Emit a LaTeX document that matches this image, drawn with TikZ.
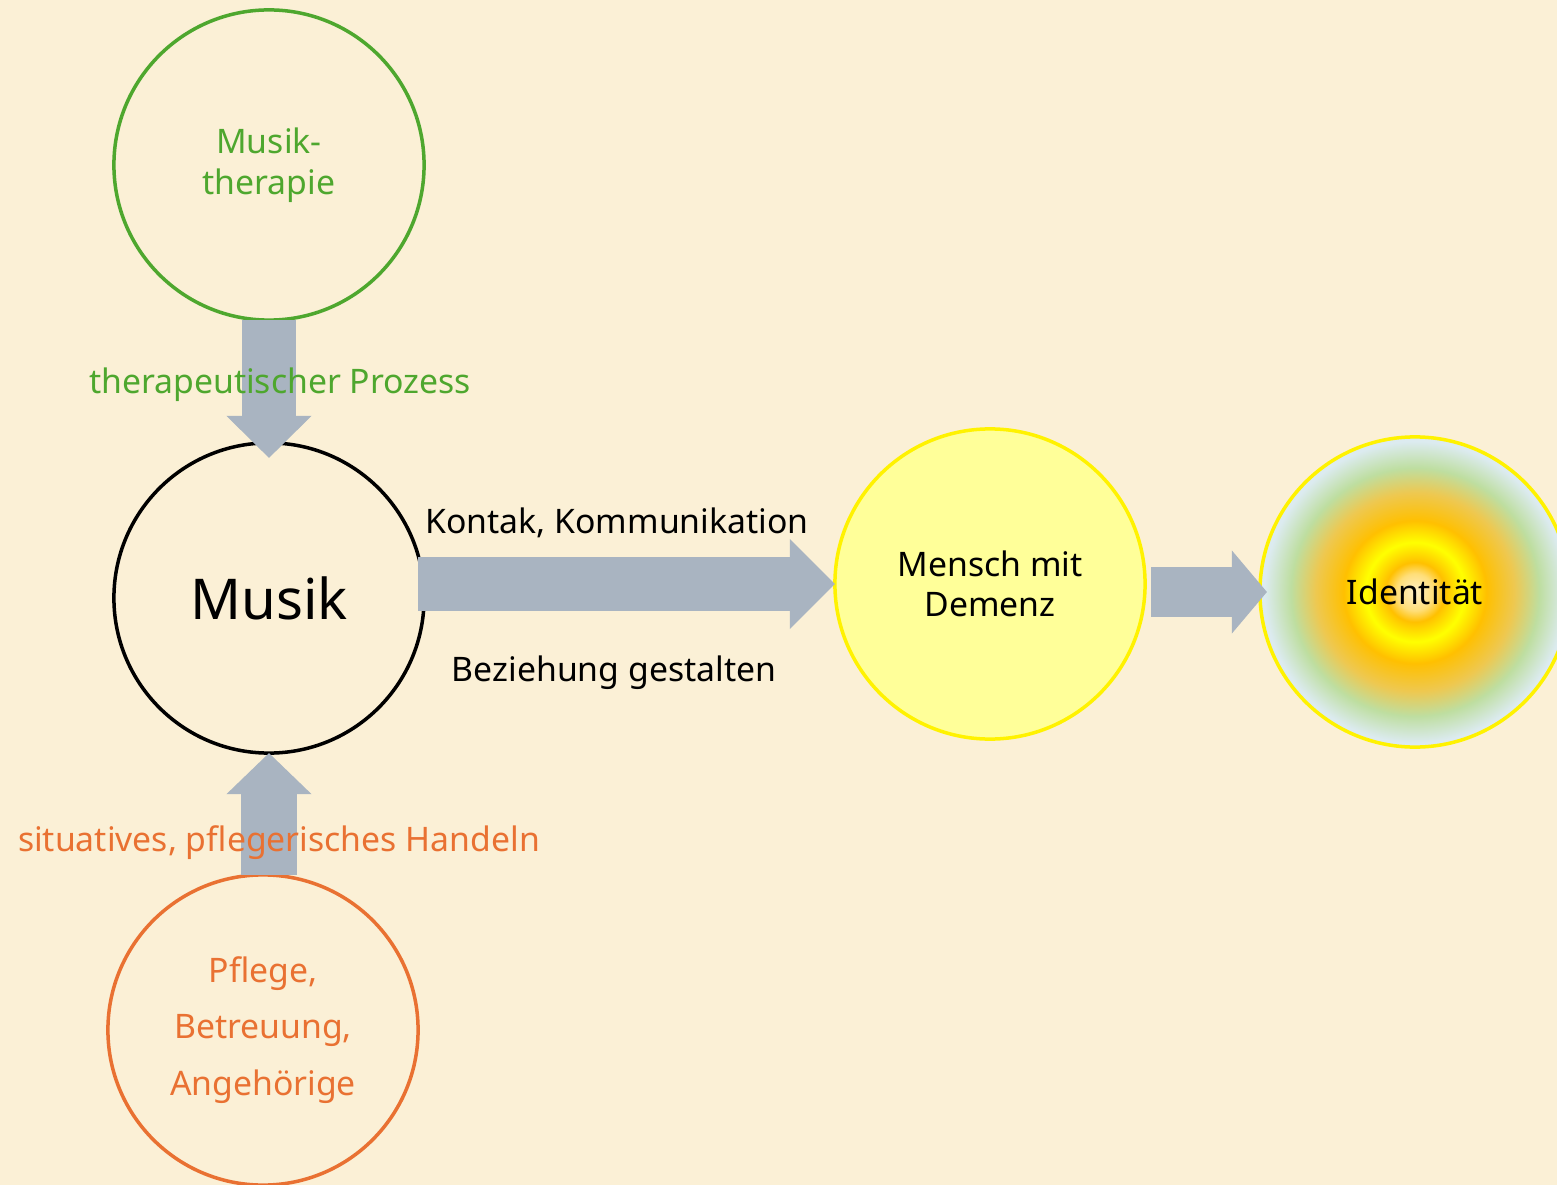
\documentclass[tikz,border=0pt]{standalone}
\usepackage{fontspec}
\setmainfont{Noto Sans}
\usetikzlibrary{arrows.meta}
\usepackage{xcolor}

\definecolor{paper}{RGB}{251,240,214}
\definecolor{arrowgray}{RGB}{169,180,193}
\definecolor{mtgreen}{RGB}{78,167,46}
\definecolor{careorange}{RGB}{233,113,50}
\definecolor{lemon}{RGB}{255,255,153}
\definecolor{ringlight}{RGB}{255,240,200}
\definecolor{ringpale}{RGB}{255,222,120}
\definecolor{ringorange}{RGB}{255,192,0}
\definecolor{ringyellow}{RGB}{255,255,0}
\definecolor{ringtan}{RGB}{238,200,80}
\definecolor{ringgreen}{RGB}{190,222,160}
\definecolor{ringblue}{RGB}{220,235,240}
\pgfdeclareradialshading{identshade}{\pgfpoint{0cm}{0cm}}{%
  color(0bp)=(ringlight); color(3bp)=(ringpale); color(4.8bp)=(ringorange);
  color(8bp)=(ringyellow); color(11.5bp)=(ringorange); color(16bp)=(ringtan);
  color(20bp)=(ringgreen); color(24.3bp)=(ringblue); color(50bp)=(ringblue)}

\begin{document}
\begin{tikzpicture}[x=0.01cm, y=-0.01cm,
  ring/.style={circle, minimum size=3.1cm, inner sep=0pt, outer sep=0pt, line width=0.035cm, align=center},
  txt/.style={font=\fontsize{9.6pt}{11.7pt}\selectfont, align=center},
  blockarrow/.style={arrowgray, line width=#1}]
\fill[paper] (0,0) rectangle (1557,1185);
\useasboundingbox (0,0) rectangle (1557,1185);

\node[ring, draw=mtgreen, text=mtgreen, txt] (therapie) at (269,165) {Musik-\\therapie};
\node[ring, draw=black, font=\fontsize{16pt}{19pt}\selectfont] (musik) at (269,598) {Musik};
\node[ring, draw=careorange, text=careorange, font=\fontsize{9.6pt}{16pt}\selectfont] (pflege) at (263,1030) {Pflege,\\Betreuung,\\Angehörige};
\node[ring, draw=yellow, fill=lemon, txt, font=\fontsize{9.6pt}{11.4pt}\selectfont] (mensch) at (990,584) {Mensch mit\\Demenz};
\node[ring, draw=yellow, shading=identshade, txt] (ident) at (1415,592) {Identität};

\draw[blockarrow=0.53cm, -{Triangle[length=0.42cm, width=0.85cm, line width=0pt]}, shorten >=-0.15cm] (therapie.south) -- (musik.north);
\draw[blockarrow=0.55cm, -{Triangle[length=0.41cm, width=0.85cm, line width=0pt]}] (musik.south |- pflege.north) -- (musik.south);
\draw[blockarrow=0.53cm, -{Triangle[length=0.45cm, width=0.9cm, line width=0pt]}, shorten <=-0.06cm] (musik.east |- mensch.west) -- (mensch.west);
\draw[blockarrow=0.49cm, -{Triangle[length=0.35cm, width=0.83cm, line width=0pt]}, shorten <=0.06cm, shorten >=-0.07cm] (mensch.east |- ident.west) -- (ident.west);

\node[txt, text=mtgreen] (prozess) at (280,385) {therapeutischer Prozess};
\node[txt, text=careorange] (handeln) at (279,843) {situatives, pflegerisches Handeln};
\node[txt] (kontakt) at (617,523) {Kontak, Kommunikation};
\node[txt] (beziehung) at (614,673) {Beziehung gestalten};
\end{tikzpicture}
\end{document}
